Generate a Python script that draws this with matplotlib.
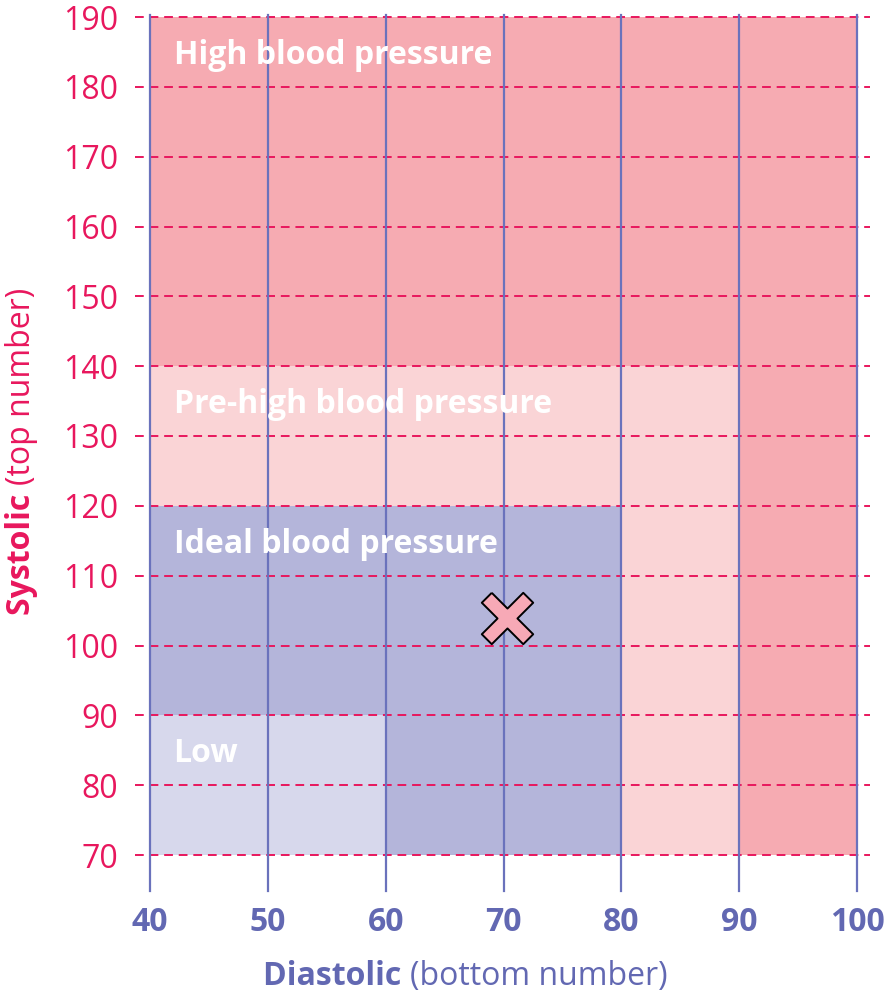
import matplotlib
matplotlib.use("Agg")
import matplotlib.pyplot as plt

plt.rcParams['font.family'] = ['Open Sans', 'DejaVu Sans']

# zones, drawn from the largest down so smaller ones sit on top
zones = ["High blood pressure", "Pre-high blood pressure", "Ideal blood pressure", "Low"]
diastolic_max = [100, 90, 80, 60]
systolic_max = [190, 140, 120, 90]
zone_colors = ["#F6ABB2", "#FAD4D6", "#B4B5DA", "#D7D8EC"]

diastolic_min = 40
systolic_min = 70

x_ticks = [40, 50, 60, 70, 80, 90, 100]
y_ticks = [70, 80, 90, 100, 110, 120, 130, 140, 150, 160, 170, 180, 190]

reading_diastolic = 70.3
reading_systolic = 104

pink = "#E8175D"
blue = "#6268B2"

fig = plt.figure(figsize=(8.96, 9.96), dpi=100)
W, H = 896, 996
ax = fig.add_axes([150 / W, (H - 855) / H, (857 - 150) / W, (855 - 17) / H])
ax.set_xlim(40, 100)
ax.set_ylim(70, 190)

for name, dmax, smax, col in zip(zones, diastolic_max, systolic_max, zone_colors):
    ax.bar(diastolic_min, smax - systolic_min, width=dmax - diastolic_min,
           bottom=systolic_min, align='edge', color=col, linewidth=0, zorder=1)

# dashed horizontal lines, a bit wider than the plot
for y in y_ticks:
    ax.plot([38.7, 101.1], [y, y], color=pink, lw=1.4, ls=(0, (4.5, 3)),
            clip_on=False, zorder=2)
# vertical lines
for x in x_ticks:
    ax.plot([x, x], [64.8, 190.3], color="#6A72BC", lw=1.6,
            clip_on=False, zorder=3)

for name, smax in zip(zones, systolic_max):
    ax.text(42, smax - 6.7, name, color="white", fontsize=23, fontweight='bold',
            va='baseline', ha='left', zorder=4)

# the reading, a pink cross
a = 0.24
plus = [(a, 1), (a, a), (1, a), (1, -a), (a, -a), (a, -1), (-a, -1), (-a, -a),
        (-1, -a), (-1, a), (-a, a), (-a, 1), (a, 1)]
cross = [((px - py) / 1.414, (px + py) / 1.414) for px, py in plus]
ax.plot(reading_diastolic, reading_systolic, marker=cross, ms=37,
        mfc="#F7A9B6", mec="black", mew=1.4, ls='none', zorder=5)

ax.set_xticks(x_ticks)
ax.set_yticks(y_ticks)
ax.tick_params(length=0)
ax.tick_params(axis='y', pad=23, labelsize=23, labelcolor=pink)
ax.tick_params(axis='x', pad=37, labelsize=23, labelcolor=blue)
for lab in ax.get_xticklabels():
    lab.set_fontweight('bold')
for s in ax.spines.values():
    s.set_visible(False)

# axis titles with a bold first word
fig.canvas.draw()
r = fig.canvas.get_renderer()

t1 = fig.text(0, 0, "Diastolic ", fontsize=23, fontweight='bold', color=blue,
              va='center', ha='left')
t2 = fig.text(0, 0, "(bottom number)", fontsize=23, color=blue,
              va='center', ha='left')
w1 = t1.get_window_extent(r).width
w2 = t2.get_window_extent(r).width
x0 = 465 - (w1 + w2) / 2
t1.set_position((x0 / W, (H - 976) / H))
t2.set_position(((x0 + w1) / W, (H - 976) / H))

s1 = fig.text(0, 0, "Systolic ", fontsize=23, fontweight='bold', color=pink,
              va='center', ha='center', rotation=90, rotation_mode='anchor')
s2 = fig.text(0, 0, "(top number)", fontsize=23, color=pink,
              va='center', ha='center', rotation=90, rotation_mode='anchor')
h1 = s1.get_window_extent(r).height
h2 = s2.get_window_extent(r).height
ybot = H - 615
s1.set_position((21 / W, (ybot + h1 / 2) / H))
s2.set_position((21 / W, (ybot + h1 + h2 / 2) / H))

fig.savefig("out.png", dpi=100)
